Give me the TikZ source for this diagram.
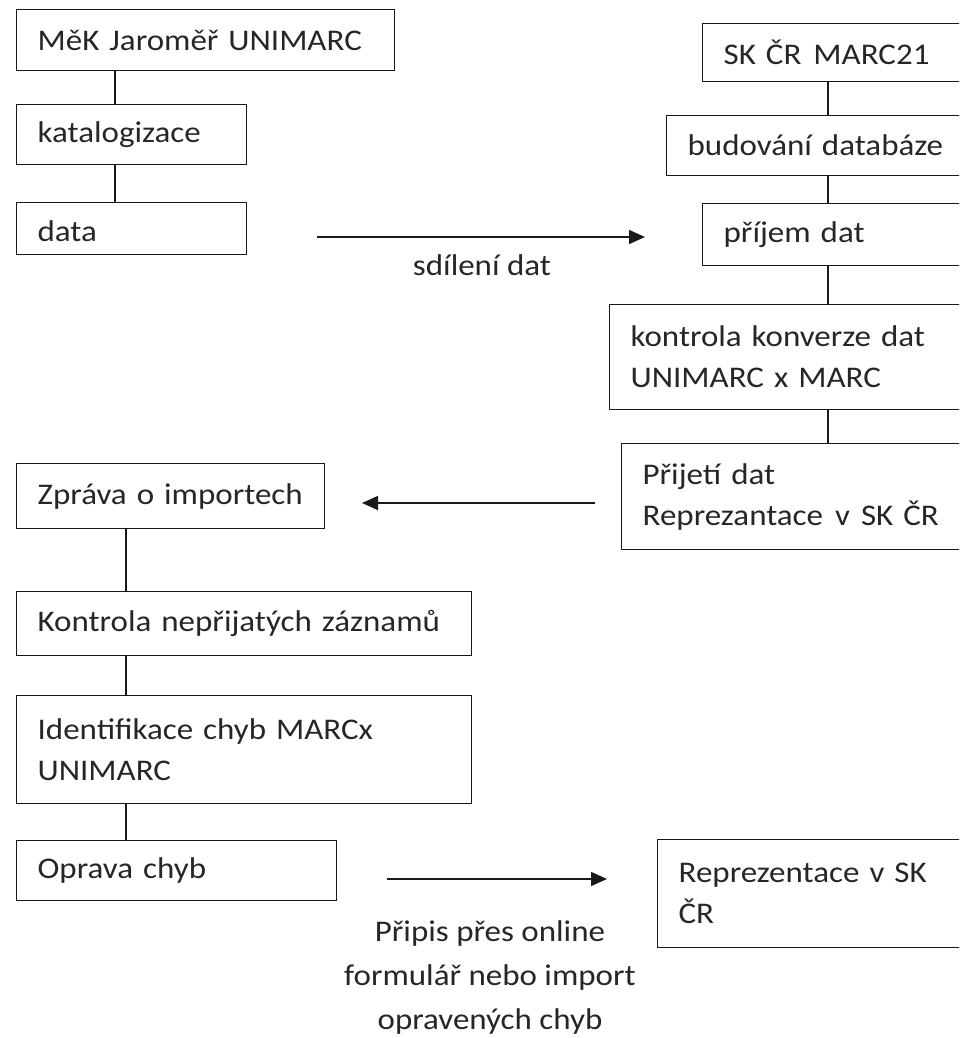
\documentclass[tikz,border=0pt]{standalone}
\usepackage{fontspec}
\setmainfont{Carlito}[FakeStretch=1.1]
\usetikzlibrary{arrows.meta}
\newcommand\diafont{\fontsize{30}{41}\selectfont}
\newcommand\labfont{\fontsize{30}{44}\selectfont}
\tikzset{
  box/.style={draw=black!90, line width=1.3pt, anchor=north west, inner xsep=21pt, inner ysep=0pt, align=left, font=\diafont, text=black!85},
  conn/.style={draw=black!90, line width=1.3pt},
  arr/.style={draw=black!90, line width=1.5pt, -{Triangle[length=16pt,width=14pt]}},
  lab/.style={font=\labfont, align=center, inner sep=0pt, text=black!85},
}
\begin{document}
\begin{tikzpicture}[x=1pt,y=-1pt]
\useasboundingbox (0,0) rectangle (959,1038);
\clip (0,0) rectangle (959,1038);
% left top column
\node[box, minimum width=378pt, minimum height=61pt, text width=336pt] (b1) at (16,9) {MěK Jaroměř UNIMARC};
\node[box, minimum width=230pt, minimum height=60pt, text width=188pt] (b2) at (16,104) {katalogizace};
\node[box, minimum width=230pt, minimum height=52pt, text width=188pt, text height=25pt, text depth=0pt] (b3) at (16,202) {data};
% right column
\node[box, minimum width=270pt, minimum height=58pt, text width=240pt] (r1) at (702,23) {SK ČR\hspace{12pt}MARC21};
\node[box, minimum width=306pt, minimum height=60pt, text width=275pt] (r2) at (666,115) {budování databáze};
\node[box, minimum width=270pt, minimum height=62pt, text width=240pt] (r3) at (702,203) {příjem dat};
\node[box, minimum width=363pt, minimum height=105pt, text width=330pt] (r4) at (609,304) {kontrola konverze dat\\UNIMARC x MARC};
\node[box, minimum width=351pt, minimum height=106pt, text width=330pt] (r5) at (621,443) {Přijetí dat\\Reprezantace\hspace{12pt}v\hspace{11pt}SK ČR};
% left bottom column
\node[box, minimum width=308pt, minimum height=65pt, text width=266pt] (l1) at (16,463) {Zpráva o importech};
\node[box, minimum width=455pt, minimum height=64pt, text width=413pt] (l2) at (16,591) {Kontrola nepřijatých záznamů};
\node[box, minimum width=455pt, minimum height=108pt, text width=413pt] (l3) at (16,695) {Identifikace chyb MARCx\\UNIMARC};
\node[box, minimum width=320pt, minimum height=60pt, text width=278pt] (l4) at (16,840) {Oprava chyb};
\node[box, minimum width=315pt, minimum height=108pt, text width=290pt] (f1) at (657,839) {Reprezentace v SK\\ČR};
% column coordinates
\coordinate (cA) at (115,0);
\coordinate (cB) at (828,0);
\coordinate (cC) at (126,0);
\draw[conn] (b1.south -| cA) -- (b2.north -| cA);
\draw[conn] (b2.south -| cA) -- (b3.north -| cA);
\draw[conn] (r1.south -| cB) -- (r2.north -| cB);
\draw[conn] (r2.south -| cB) -- (r3.north -| cB);
\draw[conn] (r3.south -| cB) -- (r4.north -| cB);
\draw[conn] (r4.south -| cB) -- (r5.north -| cB);
\draw[conn] (l1.south -| cC) -- (l2.north -| cC);
\draw[conn] (l2.south -| cC) -- (l3.north -| cC);
\draw[conn] (l3.south -| cC) -- (l4.north -| cC);
% arrows
\coordinate (a1s) at (317,237);
\coordinate (a1e) at (645,237);
\draw[arr] (a1s) -- (a1e);
\node[lab, anchor=base] (t1) at (482,275) {sdílení dat};
\coordinate (a2s) at (595,503);
\coordinate (a2e) at (362,503);
\draw[arr] (a2s) -- (a2e);
\coordinate (a3s) at (387,879);
\coordinate (a3e) at (607,879);
\draw[arr] (a3s) -- (a3e);
\node[lab, anchor=base] (t2) at (490,1029) {Připis přes online\\formulář nebo import\\opravených chyb};
\end{tikzpicture}
\end{document}
